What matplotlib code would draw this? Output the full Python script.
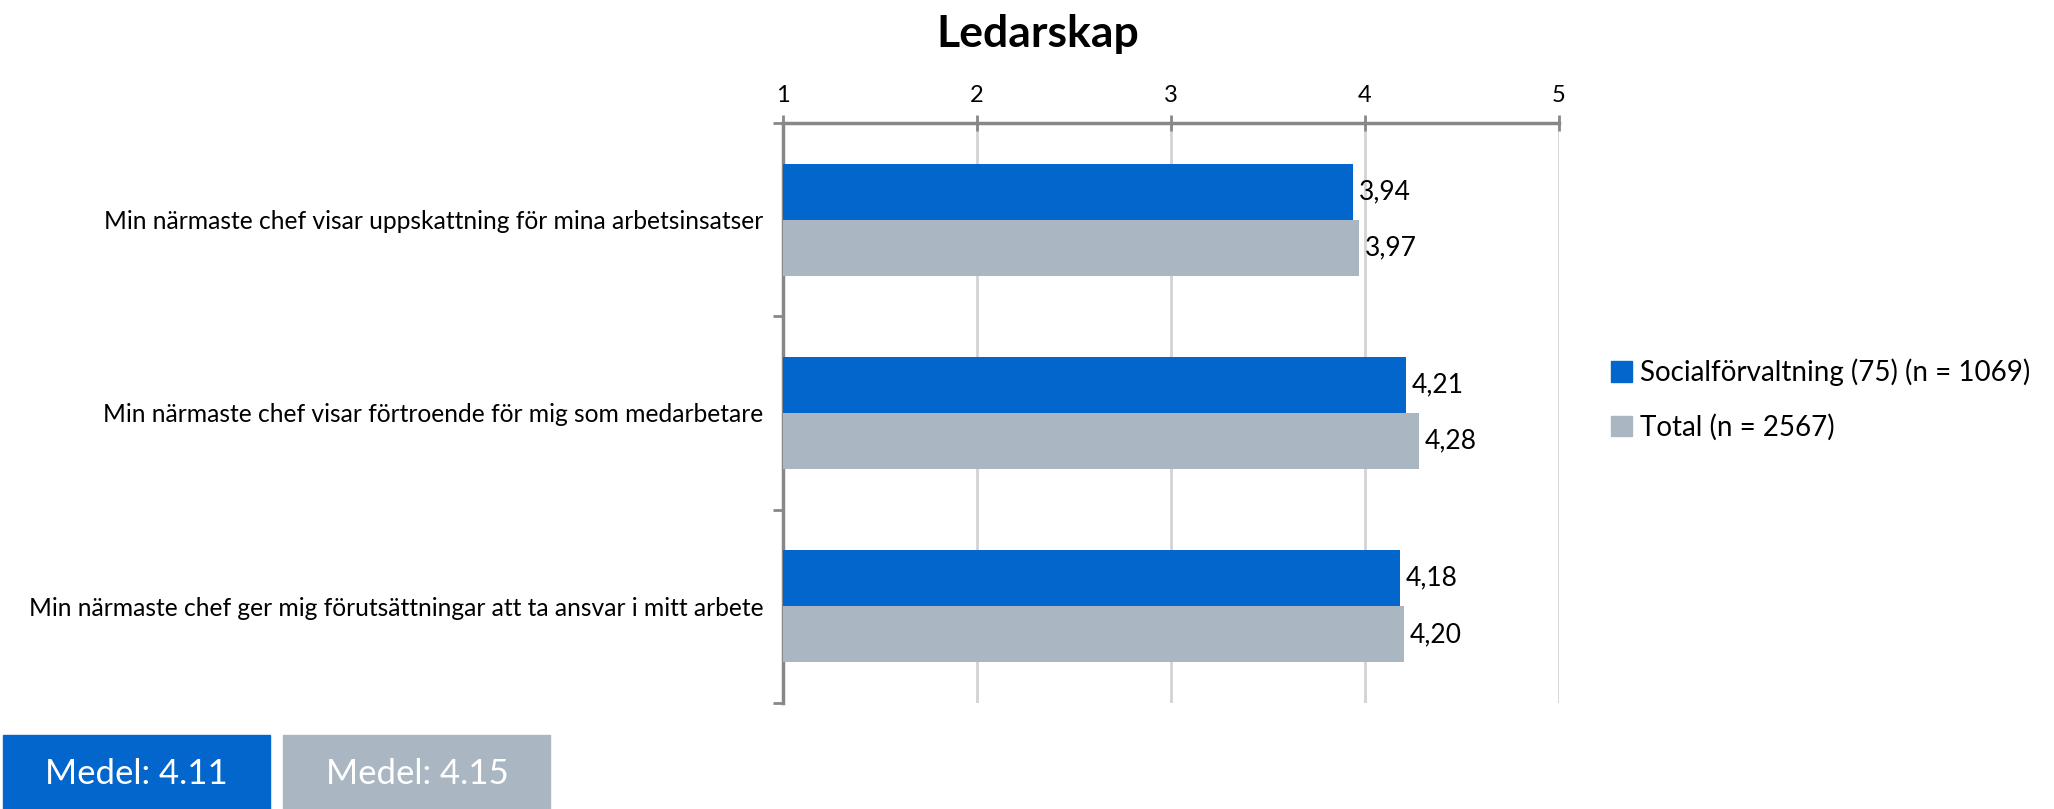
import numpy as np
import matplotlib
matplotlib.use("Agg")
import matplotlib.pyplot as plt
from matplotlib.patches import Rectangle, Patch

plt.rcParams['font.family'] = ['Lato', 'DejaVu Sans']

categories = ["Min närmaste chef visar uppskattning för mina arbetsinsatser",
              "Min närmaste chef visar förtroende för mig som medarbetare",
              "Min närmaste chef ger mig förutsättningar att ta ansvar i mitt arbete"]
social = [3.94, 4.21, 4.18]
total = [3.97, 4.28, 4.20]
series_names = ["Socialförvaltning (75) (n = 1069)", "Total (n = 2567)"]
medel = [4.11, 4.15]

blue = "#0366CC"
grey = "#AAB7C2"

fig = plt.figure(figsize=(20.54, 8.09), dpi=100)
ax = fig.add_axes([0.381, 0.131, 0.378, 0.717])

y = np.arange(len(categories))
h = 0.29
b1 = ax.barh(y - h / 2, np.array(social) - 1, h, left=1, color=blue, zorder=3)
b2 = ax.barh(y + h / 2, np.array(total) - 1, h, left=1, color=grey, zorder=3)

for bars, vals in ((b1, social), (b2, total)):
    for bar, v in zip(bars, vals):
        ax.text(v + 0.03, bar.get_y() + bar.get_height() / 2, f"{v:.2f}".replace(".", ","),
                va="center", ha="left", fontsize=19)

ax.set_xlim(1, 5)
ax.set_ylim(2.5, -0.5)
ax.xaxis.tick_top()
ax.set_xticks([1, 2, 3, 4, 5])
ax.tick_params(axis="x", direction="inout", length=12, width=2, color="#888888",
               labelsize=17, pad=6)
ax.set_yticks([-0.5, 0.5, 1.5, 2.5])
ax.set_yticklabels([])
ax.set_yticks(y, minor=True)
ax.set_yticklabels(categories, minor=True, fontsize=17.7)
ax.tick_params(axis="y", which="major", direction="out", length=7, width=2, color="#888888")
ax.tick_params(axis="y", which="minor", length=0, pad=14)
ax.grid(axis="x", color="#D3D3D3", linewidth=2, zorder=0)
for s in ("right", "bottom"):
    ax.spines[s].set_visible(False)
for s in ("top", "left"):
    ax.spines[s].set_color("#888888")
    ax.spines[s].set_linewidth(2.5)

fig.text(0.505, 0.958, "Ledarskap", ha="center", va="center", fontsize=32, fontweight="bold")

handles = [Patch(color=blue, label=series_names[0]), Patch(color=grey, label=series_names[1])]
fig.legend(handles=handles, loc="center left", bbox_to_anchor=(0.772, 0.506),
           bbox_transform=fig.transFigure, frameon=False, fontsize=20,
           handlelength=0.75, handleheight=0.75, handletextpad=0.3, labelspacing=1.0)

for i, (m, c) in enumerate(zip(medel, (blue, grey))):
    x0 = 0.0015 + i * 0.1365
    fig.patches.append(Rectangle((x0, 0.0), 0.13, 0.092, transform=fig.transFigure,
                                 color=c, zorder=1))
    fig.text(x0 + 0.065, 0.043, f"Medel: {m}", ha="center", va="center",
             color="white", fontsize=25)

fig.savefig("out.png", dpi=100)
